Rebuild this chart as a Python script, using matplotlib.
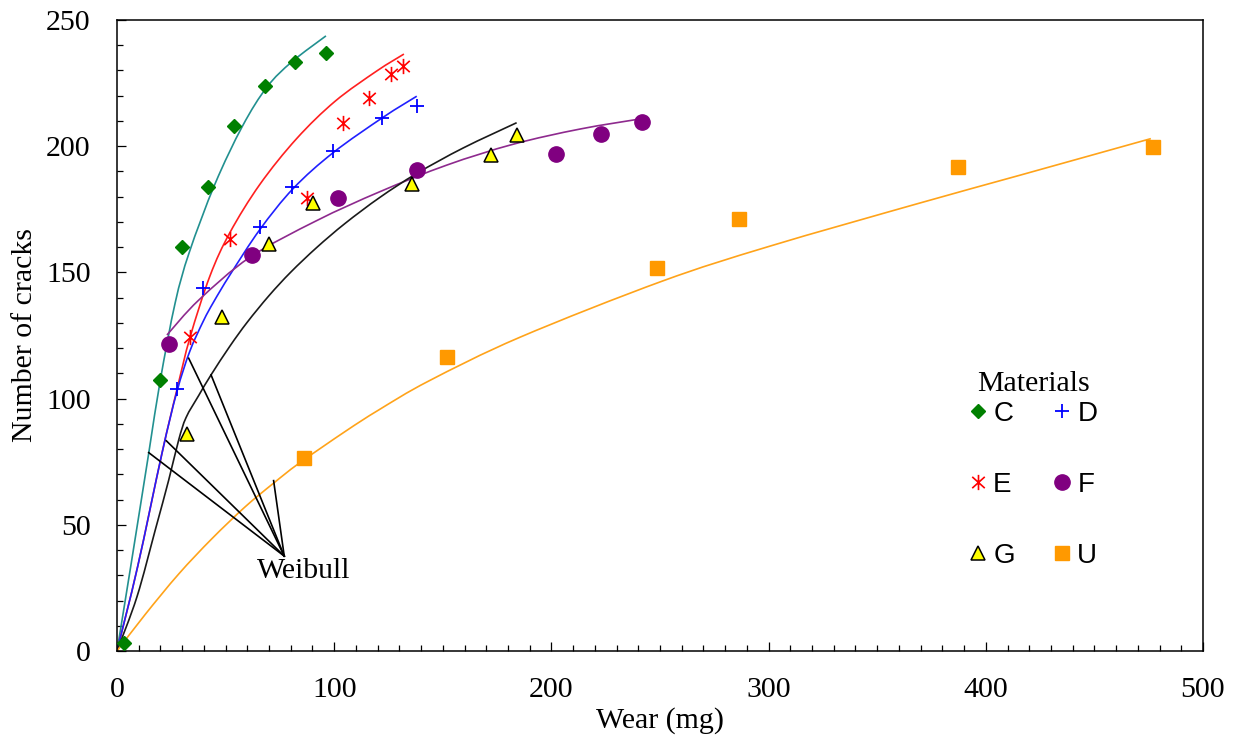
import matplotlib
matplotlib.use("Agg")
import matplotlib.pyplot as plt
from matplotlib.ticker import MultipleLocator
from matplotlib.path import Path
from matplotlib.patches import PathPatch

# ---- measured points ----
c_x = [3.0, 19.8, 30.0, 42.0, 54.0, 68.0, 82.0, 96.0]
c_y = [3.0, 107.4, 160.0, 184.0, 208.0, 224.0, 233.5, 237.0]

d_x = [27.6, 39.7, 65.8, 80.4, 99.6, 121.9, 138.0]
d_y = [103.7, 143.7, 168.1, 183.7, 198.2, 211.0, 215.8]

e_x = [33.7, 52.0, 87.3, 103.9, 115.9, 126.2, 131.8]
e_y = [124.5, 163.1, 179.4, 209.3, 219.2, 228.7, 231.9]

f_x = [24.1, 62.0, 101.9, 138.0, 202.0, 222.8, 241.9]
f_y = [121.5, 156.9, 179.4, 190.6, 196.8, 204.7, 209.5]

g_x = [32.2, 48.3, 70.1, 90.1, 136.0, 172.0, 184.0]
g_y = [85.9, 132.2, 161.3, 177.4, 185.0, 196.5, 204.4]

u_x = [86.2, 151.9, 248.4, 286.4, 387.0, 477.2]
u_y = [76.6, 116.6, 151.9, 171.0, 191.9, 199.8]

# ---- Weibull fit curves ----
wc_x = [0, 6.3, 14.6, 19.9, 26.8, 33.3, 45.1, 57.8, 69.1, 80.6, 96.2]
wc_y = [0, 33.4, 78.3, 107.1, 138.0, 158.0, 185.0, 208.0, 223.5, 233.5, 243.7]

we_x = [0, 9.5, 20.7, 27.6, 33.7, 42.8, 52.0, 65.8, 82.7, 100.4, 119.6, 132.1]
we_y = [0, 33.4, 78.3, 103.6, 124.5, 148.6, 165.8, 184.9, 203.0, 217.8, 229.8, 236.5]

wd_x = [0, 9.5, 20.7, 27.6, 33.5, 39.8, 44.5, 52.0, 65.8, 81.2, 99.6, 122.6, 138.0]
wd_y = [0, 33.4, 78.3, 102.8, 118.7, 130.8, 138.3, 149.0, 167.0, 183.3, 197.5, 211.5, 219.8]

wf_x = [23.0, 37.6, 61.2, 91.9, 121.1, 151.8, 182.5, 213.2, 242.3]
wf_y = [125.2, 139.0, 156.0, 170.5, 182.0, 192.5, 200.8, 206.8, 211.0]

wg_x = [0, 9.2, 17.6, 23.8, 28.4, 31.8, 37.6, 43.3, 52.0, 60.0, 70.0, 80.0, 92.0, 105.0, 121.0, 138.0, 159.4, 184.0]
wg_y = [0, 21.5, 47.9, 67.7, 83.6, 92.5, 101.2, 109.4, 120.8, 130.3, 140.8, 150.1, 159.9, 169.4, 179.7, 189.2, 199.3, 209.3]

wu_x = [0, 13.0, 28.4, 43.7, 59.1, 72.1, 83.7, 105.1, 120.5, 143.6, 185.5, 250.9, 300.6, 369.7, 415.7, 476.0]
wu_y = [0, 14.5, 30.5, 44.5, 57.2, 66.5, 74.3, 87.0, 95.5, 107.0, 124.3, 146.5, 160.4, 177.5, 188.5, 203.0]

# annotation: "Weibull" pointer lines
ann_tip = (77.0, 37.6)
ann_ends_x = [14.6, 22.7, 33.0, 43.3, 72.1]
ann_ends_y = [78.6, 83.3, 116.0, 109.4, 67.5]
ann_text_pos = (64.4, 28.8)

labels = ["C", "D", "E", "F", "G", "U"]
legend_title = "Materials"

serif = "Liberation Serif"
sans = "Liberation Sans"

# asterisk marker: vertical bar plus an X
ast = Path([(0, -1), (0, 1), (-0.82, -0.74), (0.82, 0.74), (-0.82, 0.74), (0.82, -0.74)],
           [Path.MOVETO, Path.LINETO, Path.MOVETO, Path.LINETO, Path.MOVETO, Path.LINETO])


def smooth_line(ax, xs, ys, color, lw):
    """Draw a smooth line through the given points (Catmull-Rom as Bezier path)."""
    pts = list(zip(xs, ys))
    verts = [pts[0]]
    codes = [Path.MOVETO]
    n = len(pts)
    for i in range(n - 1):
        p0 = pts[i - 1] if i > 0 else pts[i]
        p1 = pts[i]
        p2 = pts[i + 1]
        p3 = pts[i + 2] if i + 2 < n else pts[i + 1]
        c1 = (p1[0] + (p2[0] - p0[0]) / 6.0, p1[1] + (p2[1] - p0[1]) / 6.0)
        c2 = (p2[0] - (p3[0] - p1[0]) / 6.0, p2[1] - (p3[1] - p1[1]) / 6.0)
        verts += [c1, c2, p2]
        codes += [Path.CURVE4] * 3
    ax.add_patch(PathPatch(Path(verts, codes), fill=False, edgecolor=color,
                           lw=lw, zorder=2, capstyle="butt", joinstyle="round"))


fig = plt.figure(figsize=(12.39, 7.42), dpi=100)
ax = fig.add_axes([117 / 1239, 91 / 742, (1203 - 117) / 1239, (651 - 20) / 742])

lw = 1.2
smooth_line(ax, wc_x, wc_y, "#229090", lw)
smooth_line(ax, we_x, we_y, "#FF2020", lw)
smooth_line(ax, wd_x, wd_y, "#2020FF", lw)
smooth_line(ax, wf_x, wf_y, "#8E2A8E", lw)
smooth_line(ax, wg_x, wg_y, "#1a1a1a", lw)
smooth_line(ax, wu_x, wu_y, "#FFA31A", lw)

for ex, ey in zip(ann_ends_x, ann_ends_y):
    ax.plot([ann_tip[0], ex], [ann_tip[1], ey], color="black", lw=1.2, zorder=2)
ax.text(ann_text_pos[0], ann_text_pos[1], "Weibull", family=serif, fontsize=21.5,
        ha="left", va="baseline")

hC, = ax.plot(c_x, c_y, ls="none", marker="D", ms=7.5, color="#008000", mec="#008000", zorder=5, label=labels[0])
hD, = ax.plot(d_x, d_y, ls="none", marker="+", ms=10.5, mew=1.3, color="#0000FF", zorder=5, label=labels[1])
hE, = ax.plot(e_x, e_y, ls="none", marker=ast, ms=11, mew=1.2, color="#FF0000", zorder=5, label=labels[2])
hF, = ax.plot(f_x, f_y, ls="none", marker="o", ms=11, color="#800080", mec="#800080", zorder=5, label=labels[3])
hG, = ax.plot(g_x, g_y, ls="none", marker="^", ms=10.5, mfc="#FFFF00", mec="black", mew=1.1, zorder=5, label=labels[4])
hU, = ax.plot(u_x, u_y, ls="none", marker="s", ms=10.5, color="#FF9900", mec="#FF9900", zorder=5, label=labels[5])

ax.set_xlim(0, 500)
ax.set_ylim(0, 250)
ax.xaxis.set_major_locator(MultipleLocator(100))
ax.xaxis.set_minor_locator(MultipleLocator(10))
ax.yaxis.set_major_locator(MultipleLocator(50))
ax.yaxis.set_minor_locator(MultipleLocator(10))
ax.tick_params(which="both", direction="in", top=False, right=False, width=0.9)
ax.tick_params(which="major", length=6.5, pad=19)
ax.tick_params(which="minor", length=4)
for lab in ax.get_xticklabels() + ax.get_yticklabels():
    lab.set_family(serif)
    lab.set_fontsize(21.5)
for s in ax.spines.values():
    s.set_linewidth(1.1)

ax.set_xlabel("Wear (mg)", family=serif, fontsize=21.5, labelpad=2.3)
ax.set_ylabel("Number of cracks", family=serif, fontsize=21.5, labelpad=5.5)

leg = ax.legend(handles=[hC, hE, hG, hD, hF, hU], ncol=2, frameon=False,
                prop=dict(family=sans, size=20),
                handlelength=0.8, handletextpad=0.15, columnspacing=1.3,
                labelspacing=1.62, borderpad=0, borderaxespad=0,
                loc="upper center", bbox_to_anchor=(1032 / 1239, 1 - 401 / 742),
                bbox_transform=fig.transFigure)
fig.text(1034 / 1239, 1 - 384 / 742, legend_title, family=serif, fontsize=21.5,
         ha="center", va="center")

fig.savefig("out.png", dpi=100)
